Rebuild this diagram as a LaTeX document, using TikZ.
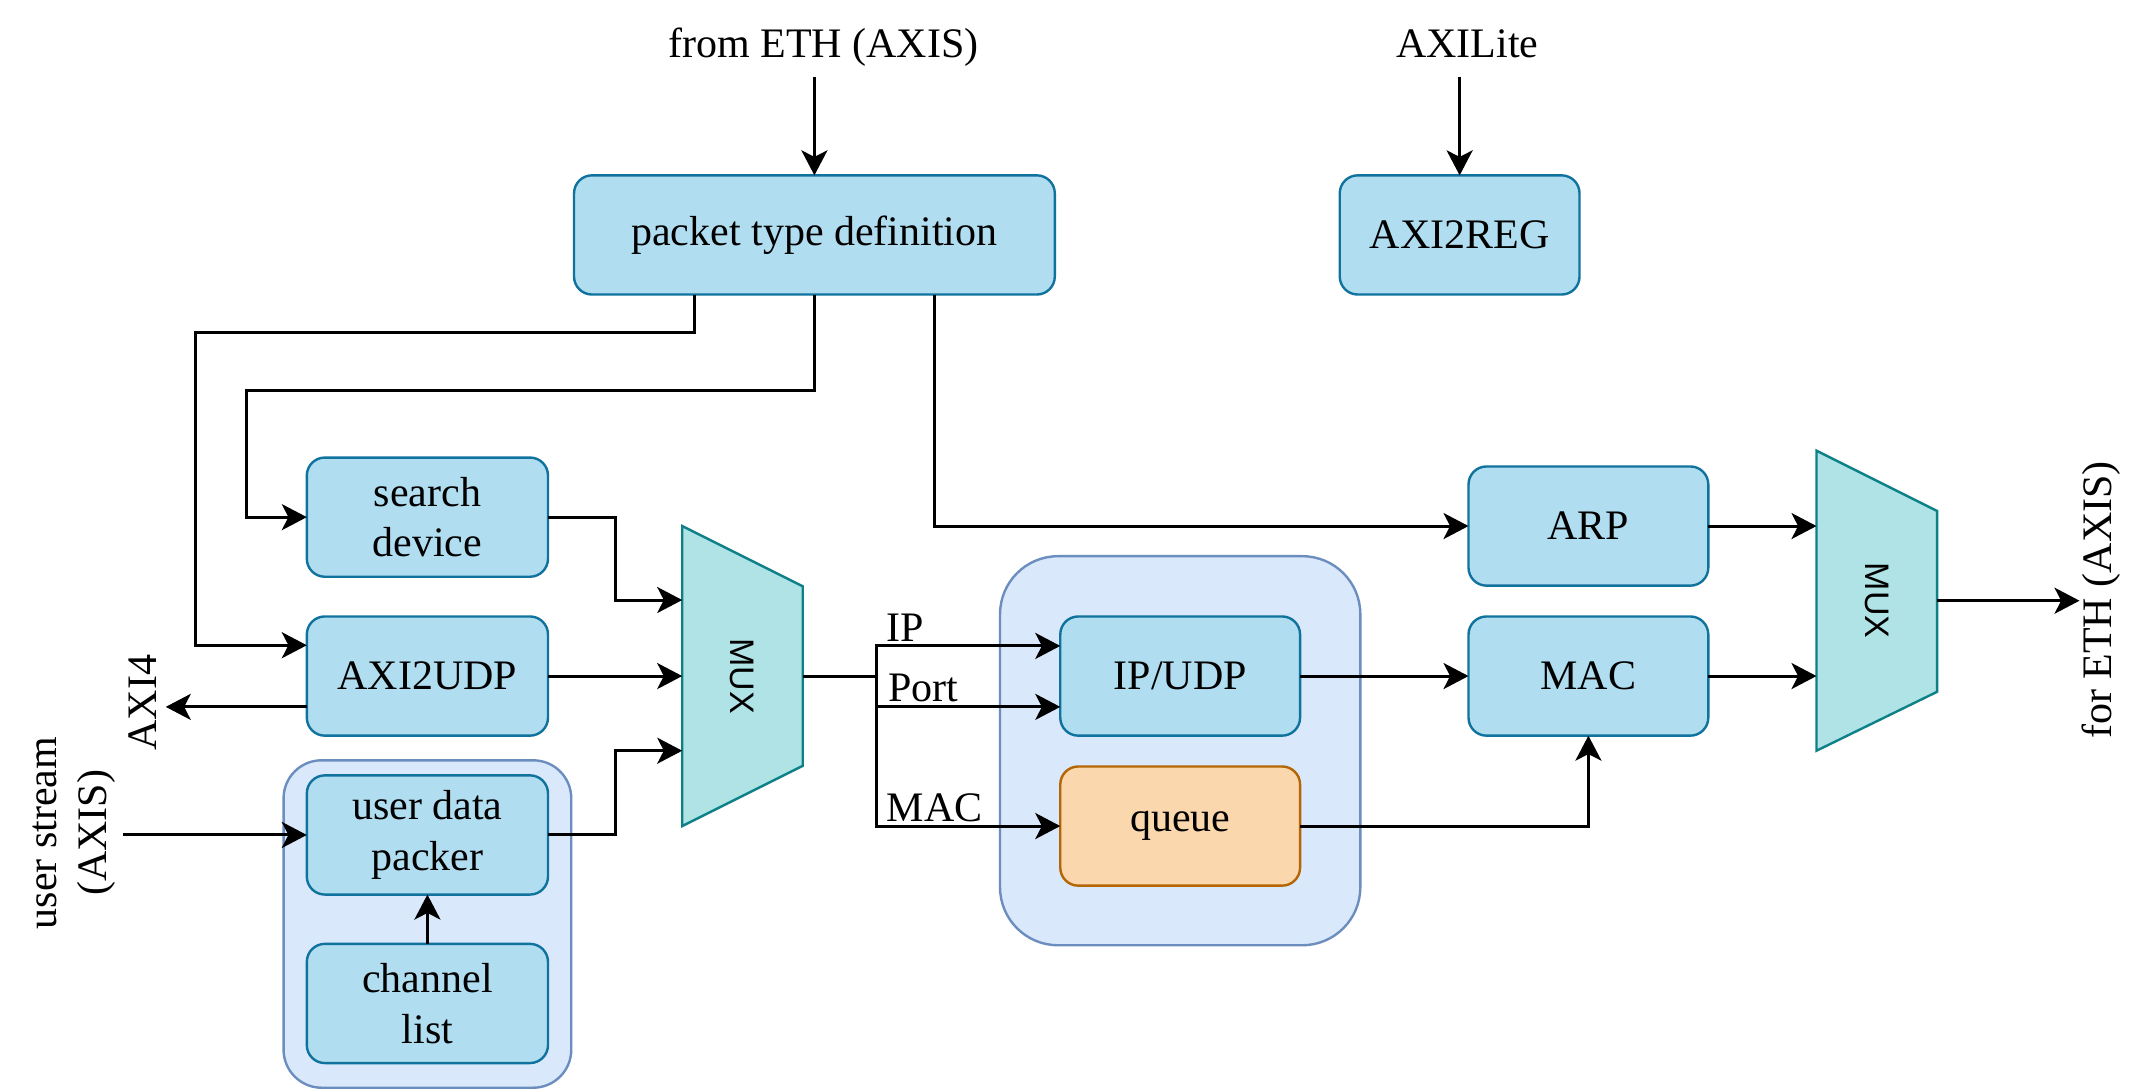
\documentclass[tikz,border=0pt]{standalone}
\usepackage{fontspec}
\setmainfont{Liberation Serif}
\newfontfamily\muxfont{Liberation Sans}
\usetikzlibrary{arrows.meta,calc}
\definecolor{boxfill}{HTML}{B1DDF0}
\definecolor{boxline}{HTML}{10739E}
\definecolor{grpfill}{HTML}{DAE8FC}
\definecolor{grpline}{HTML}{6C8EBF}
\definecolor{muxfill}{HTML}{B0E3E6}
\definecolor{muxline}{HTML}{0E8088}
\definecolor{qfill}{HTML}{FAD7AC}
\definecolor{qline}{HTML}{B46504}
\begin{document}
\begin{tikzpicture}[x=0.685pt,y=-0.685pt,
  font=\fontsize{21}{25.3}\selectfont,
  blk/.style={draw=boxline,fill=boxfill,line width=1.2pt,rounded corners=9pt,minimum width=120.6pt,minimum height=59.6pt,inner sep=0pt,outer sep=0pt,align=center},
  grp/.style={draw=grpline,fill=grpfill,line width=1.2pt},
  mux/.style={draw=muxline,fill=muxfill,line width=1.2pt},
  muxlbl/.style={rotate=-90,inner sep=0pt,font=\muxfont\fontsize{17}{20}\selectfont},
  wire/.style={line width=1.5pt},
  arr/.style={wire,-{Stealth[length=12.5pt,width=13pt,inset=3.3pt]}},
  lbl/.style={inner sep=0pt}
]
\useasboundingbox (0,0) rectangle (1568,795);
% groups
\draw[grp,rounded corners=19pt] (207,555) rectangle (417,794);
\draw[grp,rounded corners=29pt] (730,406) rectangle (993,690);
% boxes
\node[blk,minimum width=240.4pt] (ptd) at (594.5,171.5) {packet type definition};
\node[blk,minimum width=119.9pt] (a2r) at (1065.5,171.5) {AXI2REG};
\node[blk] (sd) at (312,377.5) {search\\device};
\node[blk] (a2u) at (312,493.5) {AXI2UDP};
\node[blk] (udp) at (312,609.5) {user data\\packer};
\node[blk] (cl) at (312,732.5) {channel\\list};
\node[blk,minimum width=119.9pt] (ipudp) at (861.5,493.5) {IP/UDP};
\node[blk,minimum width=119.9pt,draw=qline,fill=qfill] (queue) at (861.5,603) {\raisebox{-2pt}{queue}};
\node[blk,minimum width=119.9pt] (arp) at (1159.5,384) {ARP};
\node[blk,minimum width=119.9pt] (mac) at (1159.5,493.5) {MAC};
% muxes
\draw[mux] (498,384) -- (586,428) -- (586,559) -- (498,603) -- cycle;
\node[muxlbl] (mux1) at (542,493.5) {MUX};
\draw[mux] (1326,329) -- (1414,373) -- (1414,505) -- (1326,548) -- cycle;
\node[muxlbl] (mux2) at (1370,438.5) {MUX};
% texts
\node[lbl,anchor=base] (tfrom) at (601,42) {from ETH (AXIS)};
\node[lbl,anchor=base] (taxil) at (1071,42) {AXILite};
\node[lbl,rotate=90] (tfor) at (1534,438) {for ETH (AXIS)};
\node[lbl,rotate=90] (taxi4) at (104,513) {AXI4};
\node[lbl,rotate=90,align=center] (tus) at (54,608) {user stream\\(AXIS)};
\node[lbl,anchor=base west] (tip) at (647,468.5) {IP};
\node[lbl,anchor=base west] (tport) at (648,512) {Port};
\node[lbl,anchor=base west] (tmac) at (647,600) {MAC};
% coordinates
\coordinate (frometh) at (594.5,56);
\coordinate (axilite) at (1065.5,56);
\coordinate (m1i1) at (498,438);
\coordinate (m1i2) at (498,493.5);
\coordinate (m1i3) at (498,548);
\coordinate (m1o) at (586,493.5);
\coordinate (bus) at (640,493.5);
\coordinate (m2i1) at (1326,384);
\coordinate (m2i2) at (1326,493.5);
\coordinate (m2o) at (1414,438.5);
\coordinate (forend) at (1518,438.5);
\coordinate (axi4end) at (121,516);
\coordinate (usend) at (90,609.5);
% connectors
\draw[arr] (frometh) -- (ptd.north);
\draw[arr] (axilite) -- (a2r.north);
\draw[arr] (ptd.south -| 507,0) |- (143,243) |- (a2u.west |- 0,471);
\draw[arr] (ptd.south) |- (180,285) |- (sd.west);
\draw[arr] (ptd.south -| 682,0) |- (arp.west);
\draw[arr] (sd.east) -| (449,438) -- (m1i1);
\draw[arr] (a2u.east) -- (m1i2);
\draw[arr] (udp.east) -| (449,548) -- (m1i3);
\draw[arr] (a2u.west |- 0,516) -- (axi4end);
\draw[arr] (usend) -- (udp.west);
\draw[arr] (cl.north) -- (udp.south);
\draw[wire] (m1o) -- (bus);
\draw[arr] (bus) |- (ipudp.west |- 0,471.5);
\draw[arr] (bus) |- (ipudp.west |- 0,516);
\draw[arr] (bus) |- (queue.west);
\draw[arr] (ipudp.east) -- (mac.west);
\draw[arr] (queue.east) -| (mac.south);
\draw[arr] (arp.east) -- (m2i1);
\draw[arr] (mac.east) -- (m2i2);
\draw[arr] (m2o) -- (forend);
\end{tikzpicture}
\end{document}
